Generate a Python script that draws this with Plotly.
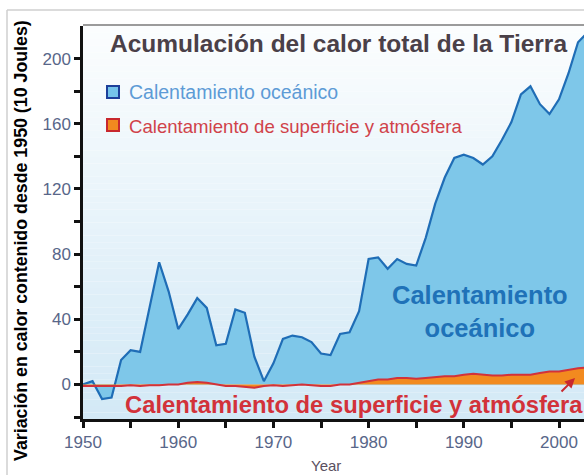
import plotly.graph_objects as go

# ---------------- data ----------------
years = list(range(1950, 2004))
ocean = [0, 2, -9, -8, 15, 21, 20, 48, 75, 57,
         34, 43, 53, 47, 24, 25, 46, 44, 17, 2,
         13, 28, 30, 29, 26, 19, 18, 31, 32, 45,
         77, 78, 71, 77, 74, 73, 90, 111, 127, 139,
         141, 139, 135, 140, 150, 161, 178, 183, 172, 166,
         175, 191, 210, 216]
surface = [-1, -1, -1, -1, -1, -0.5, -1, -0.5, -0.5, 0,
           0, 1, 1.5, 1, 0, -1, -1, -1.5, -2, -1,
           -0.5, -1, -0.5, 0, -0.5, -1, -1, 0, 0, 1,
           2, 3, 3, 4, 4, 3.5, 4, 4.5, 5, 5,
           6, 6.5, 6, 5.5, 5.5, 6, 6, 6, 7, 8,
           8, 9, 10, 10.5]
y_tickvals = [0, 40, 80, 120, 160, 200]
y_minor = [-20, 20, 60, 100, 140, 180]
x_tickvals = [1950, 1960, 1970, 1980, 1990, 2000]

title_text = "Acumulación del calor total de la Tierra"
ocean_name = "Calentamiento oceánico"
surf_name = "Calentamiento de superficie y atmósfera"
ytitle = "Variación en calor contenido desde 1950 (10 Joules)"

# ---------------- layout geometry (pixels) ----------------
W, H = 584, 475
L, R, T, B = 83, 584, 26, 419


def px(x):
    return (x - L) / (R - L)


def py(y):
    return (B - y) / (B - T)


FONT = "Liberation Sans, Arial, sans-serif"
fig = go.Figure()

fig.add_trace(go.Scatter(
    x=years, y=ocean, mode="lines", fill="tozeroy",
    line=dict(color="#1f6db6", width=2.2),
    fillcolor="#7ec7e9", showlegend=False, hoverinfo="skip"))
fig.add_trace(go.Scatter(
    x=years, y=surface, mode="lines", fill="tozeroy",
    line=dict(color="#d2323a", width=2),
    fillcolor="#f28a1f", showlegend=False, hoverinfo="skip"))

shapes = []
# gradient background
n = 60
top_c = (251, 253, 254)
bot_c = (211, 233, 246)
for i in range(n):
    t = i / (n - 1)
    c = tuple(round(top_c[k] + (bot_c[k] - top_c[k]) * t) for k in range(3))
    shapes.append(dict(type="rect", xref="paper", yref="paper",
                       x0=0, x1=1, y0=1 - (i + 1) / n, y1=1 - i / n,
                       fillcolor="rgb(%d,%d,%d)" % c, line=dict(width=0),
                       layer="below"))
# frame lines
shapes.append(dict(type="line", xref="paper", yref="paper",
                   x0=px(L), x1=px(R), y0=py(25), y1=py(25),
                   line=dict(color="#7a7a7a", width=1.5)))
shapes.append(dict(type="line", xref="paper", yref="paper",
                   x0=px(7), x1=px(R), y0=py(10), y1=py(10),
                   line=dict(color="#cfcfcf", width=1.5)))
shapes.append(dict(type="line", xref="paper", yref="paper",
                   x0=px(7), x1=px(7), y0=py(10), y1=py(475),
                   line=dict(color="#cfcfcf", width=1.5)))
# legend squares
shapes.append(dict(type="rect", xref="paper", yref="paper",
                   x0=px(107), x1=px(119), y0=py(98), y1=py(86),
                   fillcolor="#74c3ea", line=dict(color="#1c3f9a", width=2)))
shapes.append(dict(type="rect", xref="paper", yref="paper",
                   x0=px(107), x1=px(119), y0=py(131), y1=py(119),
                   fillcolor="#f28a1f", line=dict(color="#c8282e", width=2)))

ann = []
ann.append(dict(text=title_text, xref="paper", yref="paper",
                x=px(108), y=py(44), xanchor="left", yanchor="middle",
                showarrow=False,
                font=dict(family=FONT, size=24.5, color="#4a4048", weight="bold")))
ann.append(dict(text=ocean_name, xref="paper", yref="paper",
                x=px(127), y=py(92), xanchor="left", yanchor="middle",
                showarrow=False, font=dict(family=FONT, size=19.5, color="#5d9bd6")))
ann.append(dict(text=surf_name, xref="paper", yref="paper",
                x=px(127), y=py(126), xanchor="left", yanchor="middle",
                showarrow=False, font=dict(family=FONT, size=18.6, color="#d0424a")))
ann.append(dict(text="Calentamiento<br>oceánico", xref="paper", yref="paper",
                x=px(480), y=py(311), xanchor="center", yanchor="middle",
                showarrow=False, align="center",
                font=dict(family=FONT, size=25.5, color="#1f72b8", weight="bold")))
ann.append(dict(text=surf_name, xref="paper", yref="paper",
                x=px(123), y=py(404), xanchor="left", yanchor="middle",
                showarrow=False,
                font=dict(family=FONT, size=23.8, color="#d2323a", weight="bold")))
ann.append(dict(text="", xref="paper", yref="paper",
                x=px(575), y=py(378), ax=-15, ay=15,
                showarrow=True, arrowhead=2, arrowsize=1, arrowwidth=2,
                arrowcolor="#c8282e", standoff=0))
ann.append(dict(text=ytitle, xref="paper", yref="paper",
                x=px(21), y=py(241), xanchor="center", yanchor="middle",
                textangle=-90, showarrow=False,
                font=dict(family=FONT, size=17.8, color="#000000", weight="bold")))
ann.append(dict(text="Year", xref="paper", yref="paper",
                x=px(326), y=py(465), xanchor="center", yanchor="middle",
                showarrow=False, font=dict(family=FONT, size=15, color="#5a5060")))

tickfont = dict(family=FONT, size=17, color="#586689")
fig.update_layout(
    width=W, height=H,
    margin=dict(l=L, r=W - R, t=T, b=H - B, pad=0),
    paper_bgcolor="white", plot_bgcolor="rgba(0,0,0,0)",
    shapes=shapes, annotations=ann, showlegend=False,
    xaxis=dict(range=[1950, 1950 + (R - L) / 9.52], tickvals=x_tickvals,
               ticks="outside", ticklen=6, tickwidth=2.5, tickcolor="#111",
               showline=True, linecolor="#111", linewidth=2.5,
               showgrid=False, zeroline=False, tickfont=tickfont,
               minor=dict(dtick=5, tick0=1950, ticks="outside", ticklen=6,
                          tickwidth=2.5, tickcolor="#111", showgrid=False)),
    yaxis=dict(range=[-21.2, 220], tickvals=y_tickvals,
               ticks="outside", ticklen=6, tickwidth=2.5, tickcolor="#111",
               showline=True, linecolor="#111", linewidth=2.5,
               showgrid=False, zeroline=False, tickfont=tickfont,
               minor=dict(tickvals=y_minor, ticks="outside", ticklen=6,
                          tickwidth=2.5, tickcolor="#111", showgrid=False)),
)

fig.write_html("out.html",
               config={"displayModeBar": False},
               post_script="document.body.style.margin='0';"
                           "document.body.style.padding='0';")
